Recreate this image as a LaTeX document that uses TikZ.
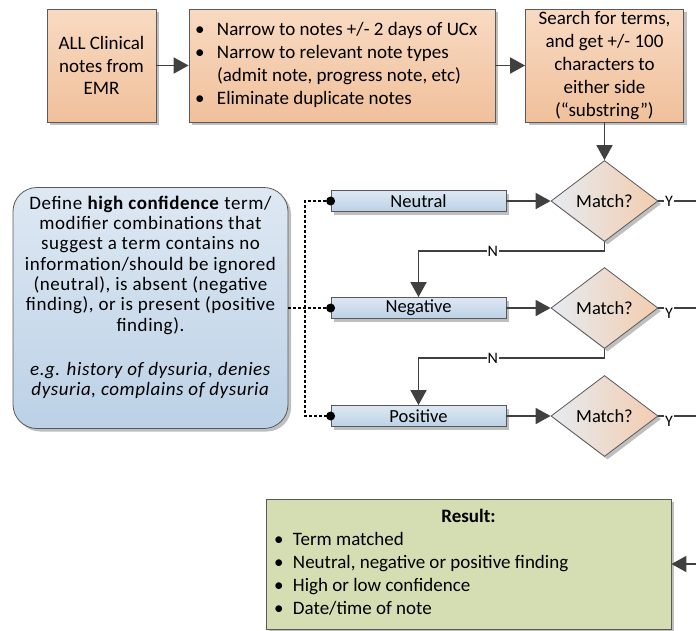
\documentclass[tikz,border=0pt]{standalone}
\usepackage{fontspec}
\setmainfont{Carlito}
\usepackage{tikz}
\usetikzlibrary{arrows.meta,shapes.geometric,shadows}

\definecolor{peachtop}{HTML}{F8DAC2}
\definecolor{peachbot}{HTML}{F0C09B}
\definecolor{bluetop}{HTML}{DEE8F3}
\definecolor{bluebot}{HTML}{BCD1E6}
\definecolor{greenfill}{HTML}{D5DEB3}
\definecolor{linegray}{HTML}{404040}
\definecolor{edgegray}{HTML}{595959}

\begin{document}
\begin{tikzpicture}[x=1pt,y=-1pt,
  shade/.style={drop shadow={shadow xshift=3pt,shadow yshift=-3pt,opacity=.25,fill=black}},
  main node/.style={draw=edgegray,line width=.8pt,top color=peachtop,bottom color=peachbot,shade,
    minimum height=113pt,inner sep=0pt,align=center,font=\fontsize{19}{22.8}\selectfont},
  tag node/.style={draw=edgegray,line width=.8pt,top color=bluetop,bottom color=bluebot,shade,
    minimum width=175pt,minimum height=21pt,inner sep=0pt,font=\fontsize{18.5}{22}\selectfont},
  match node/.style={diamond,draw=edgegray,line width=.8pt,left color=bluetop!90!gray!60,right color=peachbot!80!white,shade,
    minimum width=107pt,minimum height=81pt,inner sep=0pt,font=\fontsize{18.5}{22}\selectfont},
  flow/.style={draw=linegray,line width=1.8pt,-{Triangle[length=15pt,width=16pt]}},
  plain/.style={draw=linegray,line width=1.8pt},
  dots/.style={line width=1.5pt,dash pattern=on 3pt off 2pt},
  yn/.style={fill=white,inner sep=1pt,font=\fontsize{16}{18}\selectfont}]
\useasboundingbox (0,0) rectangle (696,630);

\node[main node,minimum width=109pt] (1) at (101.5,65.5) {ALL Clinical\\notes from\\EMR};
\node[main node,minimum width=306pt] (2) at (342,65.5)
  {\begin{tabular}{@{}p{22pt}@{}p{272pt}@{}}
   \textbullet & Narrow to notes +/- 2 days of UCx\\
   \textbullet & Narrow to relevant note types\\
               & (admit note, progress note, etc)\\
   \textbullet & Eliminate duplicate notes
   \end{tabular}};
\node[main node,minimum width=158pt] (3) at (604.5,65.5) {Search for terms,\\and get +/- 100\\characters to\\either side\\(“substring”)};

\node[match node] (4) at (604.5,201) {Match?};
\node[match node] (5) at (604.5,308) {Match?};
\node[match node] (6) at (604.5,416) {Match?};

\node[tag node] (7) at (418.5,201) {Neutral};
\node[tag node] (8) at (418.5,308) {Negative};
\node[tag node] (9) at (418.5,416) {Positive};

\node[draw=edgegray,line width=.8pt,top color=bluetop,bottom color=bluebot,shade,rounded corners=24pt,
  minimum width=275pt,minimum height=241pt,inner sep=0pt,
  font=\fontsize{19}{20.3}\selectfont\addfontfeature{LetterSpace=3}] (10) at (150.5,308)
  {\raisebox{0pt}[\height][\dimexpr\depth+19pt\relax]{\begin{tabular}{@{}c@{}}
   Define \textbf{high confidence} term/\\
   modifier combinations that\\
   suggest a term contains no\\
   information/should be ignored\\
   (neutral), is absent (negative\\
   finding), or is present (positive\\
   finding).\\[24pt]
   \textit{e.g. history of dysuria, denies}\\
   \textit{dysuria, complains of dysuria}
   \end{tabular}}};

\node[draw=edgegray,line width=.8pt,fill=greenfill,shade,minimum width=405pt,minimum height=130pt,
  inner sep=0pt,font=\fontsize{19}{23}\selectfont] (11) at (468.5,564)
  {\begin{tabular}{@{}p{19pt}@{}p{370pt}@{}}
   \multicolumn{2}{c}{\textbf{Result:}}\\
   \textbullet & Term matched\\
   \textbullet & Neutral, negative or positive finding\\
   \textbullet & High or low confidence\\
   \textbullet & Date/time of note
   \end{tabular}};

\coordinate (j) at (305,308);
\coordinate (y1) at (696,201);
\coordinate (y2) at (696,308);
\coordinate (y3) at (696,416);
\coordinate (r) at (696,564);

\draw[flow] (1) -- (2);
\draw[flow] (2) -- (3);
\draw[flow] (3) -- (4);
\draw[flow] (7) -- (4);
\draw[flow] (8) -- (5);
\draw[flow] (9) -- (6);
\draw[flow] (4.south) -- ++(0,9) -| node[yn,pos=.3] {N} (8.north);
\draw[flow] (5.south) -- ++(0,9) -| node[yn,pos=.3] {N} (9.north);
\draw[plain] (4.east) -- node[yn,pos=.28] {Y} (y1);
\draw[plain] (5.east) -- node[yn,pos=.28,yshift=-5pt] {Y} (y2);
\draw[plain] (6.east) -- node[yn,pos=.28,yshift=-5pt] {Y} (y3);
\draw[flow] (r) -- (11);

\draw[dots] (10) -- (8);
\draw[dots] (7.west) -| (j) |- (9.west);
\fill (7.west) circle (4.5pt);
\fill (8.west) circle (4.5pt);
\fill (9.west) circle (4.5pt);
\end{tikzpicture}
\end{document}
